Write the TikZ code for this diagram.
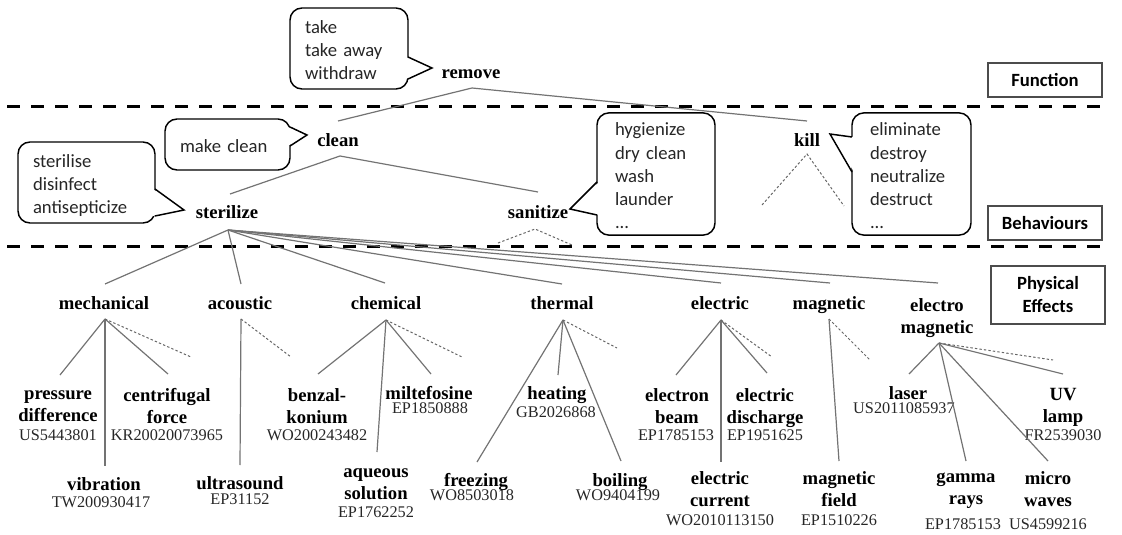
\documentclass[tikz,border=0pt]{standalone}
\usepackage{fontspec}
\setmainfont{Liberation Serif}
\newfontfamily\calfont{Carlito}
\newcommand\callptr[4]{%
  \fill[white] ([xshift=#4]#1) -- (#2) -- ([xshift=#4]#3) -- cycle;
  \draw[ptr] (#1) -- (#2) -- (#3);}
\begin{document}
\begin{tikzpicture}[x=0.75pt,y=-0.75pt,
  lab/.style={font=\fontsize{14}{16.5}\selectfont\bfseries, align=center, inner sep=0pt, yshift=-1.5pt,
    execute at begin node=\strut, execute at end node=\strut},
  lab2/.style={lab, yshift=-2.25pt},
  pat/.style={font=\fontsize{12.2}{14}\selectfont, inner sep=0pt, text=black!85, yshift=-1.2pt,
    execute at begin node=\strut},
  link/.style={draw=black!55, line width=0.9pt},
  dlink/.style={draw=black!60, line width=0.75pt, dash pattern=on 1.8pt off 1.6pt},
  sepline/.style={line width=2.25pt, dash pattern=on 9.4pt off 8.6pt},
  callbox/.style={draw, line width=1.1pt, rounded corners=9pt, fill=white, align=left,
    font=\calfont\fontsize{14}{17.3}\selectfont, text=black!85, inner ysep=0pt,
    execute at begin node={\rule{0pt}{17.3pt}}, execute at end node=\strut},
  tag/.style={draw=black!70, line width=0.9pt, font=\calfont\bfseries\fontsize{14}{17.25}\selectfont,
    align=center, minimum width=85.5pt, inner sep=0pt},
  ptr/.style={line width=1.1pt, line join=miter}
]
\useasboundingbox (0,0) rectangle (1122,535);

% separators
\coordinate (s1a) at (7,107); \coordinate (s1b) at (1103,107);
\coordinate (s2a) at (7,246); \coordinate (s2b) at (1103,246);
\draw[sepline] (s1a) -- (s1b);
\draw[sepline] (s2a) -- (s2b);

% level tags
\node[tag, minimum height=25.5pt] (function) at (1045,80) {Function};
\node[tag, minimum height=25.5pt] (behaviours) at (1045,223) {Behaviours};
\node[tag, minimum height=43.5pt] (physical) at (1048,295) {Physical\\Effects};

% function / behaviours
\node[lab] (remove) at (471,72) {remove};
\node[lab] (clean) at (338,140) {clean};
\node[lab] (kill) at (807,140) {kill};
\node[lab] (sterilize) at (227,212) {sterilize};
\node[lab] (sanitize) at (538,212) {sanitize};

\coordinate (remove-b) at (472,88);
\coordinate (clean-t) at (338,121); \coordinate (clean-b) at (340,156);
\coordinate (kill-t) at (807,121); \coordinate (kill-b) at (807,154);
\coordinate (steril-t) at (230,194); \coordinate (steril-b) at (228,230);
\coordinate (sanit-t) at (538,192); \coordinate (sanit-b) at (535,229);
\coordinate (kill-d1) at (762,205); \coordinate (kill-d2) at (844,206);
\coordinate (sanit-d1) at (498,243); \coordinate (sanit-d2) at (572,245);

\draw[link] (remove-b) -- (clean-t);
\draw[link] (remove-b) -- (kill-t);
\draw[link] (clean-b) -- (steril-t);
\draw[link] (clean-b) -- (sanit-t);
\draw[dlink] (kill-d1) -- (kill-b) -- (kill-d2);
\draw[dlink] (sanit-d1) -- (sanit-b) -- (sanit-d2);

% callouts
\node[callbox, minimum width=88.5pt, minimum height=60.75pt, text width=66pt, inner xsep=11.25pt] (take) at (349,48.5) {take\\take away\\withdraw};
\coordinate (take-p1) at (408,57); \coordinate (take-tip) at (432,68); \coordinate (take-p2) at (408,79);
\callptr{take-p1}{take-tip}{take-p2}{-1.6pt}

\node[callbox, minimum width=93.75pt, minimum height=38.25pt, text width=71.25pt, inner xsep=11.25pt] (makeclean) at (227.5,144.5) {make clean};
\coordinate (mc-p1) at (290,127); \coordinate (mc-tip) at (307,135); \coordinate (mc-p2) at (290,146);
\callptr{mc-p1}{mc-tip}{mc-p2}{-1.6pt}

\node[callbox, minimum width=102.75pt, minimum height=60.75pt, text width=80.25pt, inner xsep=11.25pt] (sterilise) at (86.5,182.5) {sterilise\\disinfect\\antisepticize};
\coordinate (st-p1) at (155,189); \coordinate (st-tip) at (184,210); \coordinate (st-p2) at (155,216);
\callptr{st-p1}{st-tip}{st-p2}{-1.6pt}

\node[callbox, minimum width=88.5pt, minimum height=87pt, text width=61.5pt, inner xsep=13.5pt] (hyg) at (656,174) {hygienize\\dry clean\\wash\\launder\\...};
\coordinate (hy-p1) at (597,182); \coordinate (hy-tip) at (570,209); \coordinate (hy-p2) at (597,215);
\callptr{hy-p1}{hy-tip}{hy-p2}{1.6pt}

\node[callbox, minimum width=89.25pt, minimum height=87pt, text width=62.25pt, inner xsep=13.5pt] (killsyn) at (911.5,174) {eliminate\\destroy\\neutralize\\destruct\\...};
\coordinate (ki-p1) at (852,137); \coordinate (ki-tip) at (830,134); \coordinate (ki-p2) at (852,172);
\callptr{ki-p1}{ki-tip}{ki-p2}{1.6pt}

% physical effects
\node[lab] (mechanical) at (104,303) {mechanical};
\node[lab] (acoustic) at (240,303) {acoustic};
\node[lab] (chemical) at (386,303) {chemical};
\node[lab] (thermal) at (562,303) {thermal};
\node[lab] (electric) at (720,303) {electric};
\node[lab] (magnetic) at (829,303) {magnetic};
\node[lab2] (electromag) at (937,314) {electro\\magnetic};

\coordinate (mechanical-t) at (105,284); \coordinate (mechanical-b) at (105,319);
\coordinate (acoustic-t) at (241,284); \coordinate (acoustic-b) at (241,319);
\coordinate (chemical-t) at (385,283); \coordinate (chemical-b) at (386,320);
\coordinate (thermal-t) at (562,284); \coordinate (thermal-b) at (563,320);
\coordinate (electric-t) at (721,283); \coordinate (electric-b) at (721,320);
\coordinate (magnetic-t) at (830,283); \coordinate (magnetic-b) at (829,319);
\coordinate (electromag-t) at (938,283); \coordinate (electromag-b) at (939,343);

\foreach \n in {mechanical,acoustic,chemical,thermal,electric,magnetic,electromag}
  \draw[link] (steril-b) -- (\n-t);

% mechanical leaves
\node[lab2] (pressure) at (58,404) {pressure\\difference};
\node[pat] (pressure-no) at (58,435) {US5443801};
\coordinate (pressure-t) at (60,375);
\node[lab] (vibration) at (104,484) {vibration};
\node[pat] (vibration-no) at (101,502) {TW200930417};
\coordinate (vibration-t) at (105,466);
\node[lab2] (centrifugal) at (167,404) {centrifugal\\force};
\node[pat] (centrifugal-no) at (167,435) {KR20020073965};
\coordinate (centrifugal-t) at (168,374);
\coordinate (mechanical-d) at (191,357);
\draw[link] (mechanical-b) -- (pressure-t);
\draw[link] (mechanical-b) -- (vibration-t);
\draw[link] (mechanical-b) -- (centrifugal-t);
\draw[dlink] (mechanical-b) -- (mechanical-d);

% acoustic leaves
\node[lab] (ultrasound) at (240,483) {ultrasound};
\node[pat] (ultrasound-no) at (240,499) {EP31152};
\coordinate (ultrasound-t) at (240,465);
\coordinate (acoustic-d) at (291,357);
\draw[link] (acoustic-b) -- (ultrasound-t);
\draw[dlink] (acoustic-b) -- (acoustic-d);

% chemical leaves
\node[lab2] (benzal) at (317,404) {benzal-\\konium};
\node[pat] (benzal-no) at (317,435) {WO200243482};
\coordinate (benzal-t) at (318,374);
\node[lab2] (aqueous) at (376,482) {aqueous\\solution};
\node[pat] (aqueous-no) at (376,512) {EP1762252};
\coordinate (aqueous-t) at (377,452);
\node[lab] (miltefosine) at (429,393) {miltefosine};
\node[pat] (miltefosine-no) at (430,408) {EP1850888};
\coordinate (miltefosine-t) at (431,374);
\coordinate (chemical-d) at (462,357);
\draw[link] (chemical-b) -- (benzal-t);
\draw[link] (chemical-b) -- (aqueous-t);
\draw[link] (chemical-b) -- (miltefosine-t);
\draw[dlink] (chemical-b) -- (chemical-d);

% thermal leaves
\node[lab] (freezing) at (476,480) {freezing};
\node[pat] (freezing-no) at (472,495) {WO8503018};
\coordinate (freezing-t) at (477,462);
\node[lab] (heating) at (557,393) {heating};
\node[pat] (heating-no) at (556,412) {GB2026868};
\coordinate (heating-t) at (558,375);
\node[lab] (boiling) at (620,480) {boiling};
\node[pat] (boiling-no) at (618,495) {WO9404199};
\coordinate (boiling-t) at (621,461);
\coordinate (thermal-d) at (617,348);
\draw[link] (thermal-b) -- (freezing-t);
\draw[link] (thermal-b) -- (heating-t);
\draw[link] (thermal-b) -- (boiling-t);
\draw[dlink] (thermal-b) -- (thermal-d);

% electric leaves
\node[lab2] (ebeam) at (677,404) {electron\\beam};
\node[pat] (ebeam-no) at (676,435) {EP1785153};
\coordinate (ebeam-t) at (676,375);
\node[lab2] (ecurrent) at (720,487) {electric\\current};
\node[pat] (ecurrent-no) at (720,520) {WO2010113150};
\coordinate (ecurrent-t) at (721,462);
\node[lab2] (edischarge) at (765,404) {electric\\discharge};
\node[pat] (edischarge-no) at (765,435) {EP1951625};
\coordinate (edischarge-t) at (767,373);
\coordinate (electric-d) at (772,357);
\draw[link] (electric-b) -- (ebeam-t);
\draw[link] (electric-b) -- (ecurrent-t);
\draw[link] (electric-b) -- (edischarge-t);
\draw[dlink] (electric-b) -- (electric-d);

% magnetic leaves
\node[lab2] (mfield) at (839,487) {magnetic\\field};
\node[pat] (mfield-no) at (839,520) {EP1510226};
\coordinate (mfield-t) at (839,461);
\coordinate (magnetic-d) at (870,360);
\draw[link] (magnetic-b) -- (mfield-t);
\draw[dlink] (magnetic-b) -- (magnetic-d);

% electromagnetic leaves
\node[lab] (laser) at (908,393) {laser};
\node[pat] (laser-no) at (904,408) {US2011085937};
\coordinate (laser-t) at (909,374);
\node[lab2] (gamma) at (966,487) {gamma\\rays};
\node[pat] (gamma-no) at (963,524) {EP1785153};
\coordinate (gamma-t) at (966,461);
\node[lab2] (micro) at (1048,487) {micro\\waves};
\node[pat] (micro-no) at (1048,524) {US4599216};
\coordinate (micro-t) at (1048,461);
\node[lab2] (uv) at (1063,404) {UV\\lamp};
\node[pat] (uv-no) at (1063,435) {FR2539030};
\coordinate (uv-t) at (1063,374);
\coordinate (electromag-d) at (1053,360);
\draw[link] (electromag-b) -- (laser-t);
\draw[link] (electromag-b) -- (gamma-t);
\draw[link] (electromag-b) -- (micro-t);
\draw[link] (electromag-b) -- (uv-t);
\draw[dlink] (electromag-b) -- (electromag-d);
\end{tikzpicture}
\end{document}
